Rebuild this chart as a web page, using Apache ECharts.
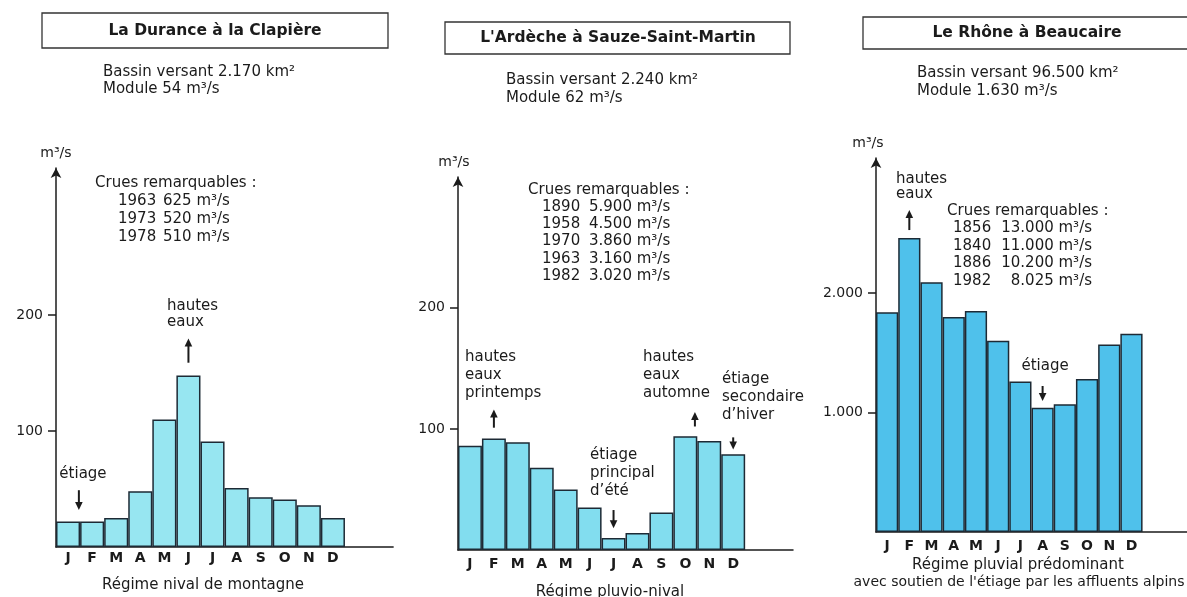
<!DOCTYPE html>
<html><head><meta charset="utf-8">
<script src="https://cdn.jsdelivr.net/npm/echarts@6/dist/echarts.min.js"></script>
<style>html,body{margin:0;padding:0;background:#fff}#c{width:1187px;height:597px}</style>
</head><body><div id="c"></div>
<script>
// ---- data ----
const months = ['J','F','M','A','M','J','J','A','S','O','N','D'];
const durance = [22,22,25,48,110,148,91,51,43,41,36,25];
const ardeche = [86,92,89,68,50,35,10,14,31,94,90,79];
const rhone = [1840,2460,2090,1800,1850,1600,1260,1040,1070,1280,1570,1660];
const duranceTicks = [100,200];
const ardecheTicks = [100,200];
const rhoneTicks = [1000,2000];
const duranceCrues = [['1963','625 m³/s'],['1973','520 m³/s'],['1978','510 m³/s']];
const ardecheCrues = [['1890','5.900 m³/s'],['1958','4.500 m³/s'],['1970','3.860 m³/s'],['1963','3.160 m³/s'],['1982','3.020 m³/s']];
const rhoneCrues = [['1856','13.000 m³/s'],['1840','11.000 m³/s'],['1886','10.200 m³/s'],['1982','8.025 m³/s']];

const FONT = 'DejaVu Sans';
const INK = '#1b1b1b';
const BODY = 15;

const panels = [
  {left:56, top:168, bottom:547, cw:24.08, max:327, data:durance, ticks:duranceTicks, color:'#97e6f1',
   fmt:v=>String(v), lm:4, nameShift:0},
  {left:458, top:177, bottom:550, cw:23.93, max:308, data:ardeche, ticks:ardecheTicks, color:'#82ddef',
   fmt:v=>String(v), lm:7, nameShift:8},
  {left:876, top:158, bottom:532, cw:23.25, max:3130, data:rhone, ticks:rhoneTicks, color:'#4fc1eb',
   fmt:v=>(v/1000).toFixed(3), lm:7, nameShift:16}
];

const notes = [
  {g:0, at:0.45, from:49, to:32, text:'étiage', tAt:0.62, tv:55, align:'center'},
  {g:0, at:5, from:159, to:180, text:'hautes\neaux', tAt:4.11, tv:187, align:'left', lh:16},
  {g:1, at:1, from:101, to:116, text:'hautes\neaux\nprintemps', tAt:-0.21, tv:122, align:'left'},
  {g:1, at:6, from:33, to:18, text:'étiage\nprincipal\nd’été', tAt:5.02, tv:41, align:'left'},
  {g:1, at:9.4, from:102, to:114, text:'hautes\neaux\nautomne', tAt:7.23, tv:122, align:'left'},
  {g:1, at:11, from:93, to:83, text:'étiage\nsecondaire\nd’hiver', tAt:10.53, tv:104, align:'left'},
  {g:2, at:1, from:2527, to:2695, text:'hautes\neaux', tAt:0.4, tv:2762, align:'left', lh:15},
  {g:2, at:7, from:1222, to:1096, text:'étiage', tAt:7.11, tv:1314, align:'center'}
];

const chart = echarts.init(document.getElementById('c'));

const grids = [], xAxes = [], yAxes = [], series = [];
panels.forEach((p, i) => {
  grids.push({left:p.left, top:p.top, width:p.cw*14, height:p.bottom-p.top});
  xAxes.push({
    type:'category', gridIndex:i, data:months.concat(['','']),
    axisLine:{show:true, lineStyle:{color:INK, width:1.5}},
    axisTick:{show:false},
    axisLabel:{interval:0, fontFamily:FONT, fontWeight:'bold', fontSize:14, color:INK, margin:p.lm}
  });
  yAxes.push({
    type:'value', gridIndex:i, min:0, max:p.max,
    name:'m³/s', nameLocation:'end', nameGap:8,
    nameTextStyle:{fontFamily:FONT, fontSize:14, color:INK, align:'center', padding:[0,p.nameShift,0,0]},
    axisLine:{show:true, lineStyle:{color:INK, width:1.5}, symbol:['none','arrow'], symbolSize:[8,10]},
    axisTick:{show:true, customValues:p.ticks, length:8, lineStyle:{color:INK, width:1.5}},
    axisLabel:{customValues:p.ticks, formatter:p.fmt, fontFamily:FONT, fontSize:14, color:INK, margin:13},
    splitLine:{show:false}
  });
  series.push({
    type:'bar', xAxisIndex:i, yAxisIndex:i, data:p.data, barCategoryGap:'0%', silent:true,
    itemStyle:{color:p.color, borderColor:'#1d2a35', borderWidth:1.5}
  });
});

function txt(x, y, text, o) {
  o = o || {};
  return {type:'text', silent:true, style:{x, y, text, fill:INK, fontFamily:FONT,
    fontSize:o.size||BODY, fontWeight:o.weight||'normal', textAlign:o.align||'left',
    textVerticalAlign:o.va||'middle', lineHeight:o.lh}};
}

const graphics = [];
// title boxes
[[42,13,346,35,215,31,'La Durance à la Clapière'],
 [445,22,345,32,618,38,"L'Ardèche à Sauze-Saint-Martin"],
 [863,17,335,32,1027,33,'Le Rhône à Beaucaire']].forEach(t => {
  graphics.push({type:'rect', silent:true, shape:{x:t[0], y:t[1], width:t[2], height:t[3]},
    style:{fill:'none', stroke:'#333', lineWidth:1.3}});
  graphics.push(txt(t[4], t[5], t[6], {weight:'bold', size:15.5, align:'center'}));
});
// subtitles
graphics.push(txt(103, 72, 'Bassin versant 2.170 km²'));
graphics.push(txt(103, 89, 'Module 54 m³/s'));
graphics.push(txt(506, 80, 'Bassin versant 2.240 km²'));
graphics.push(txt(506, 98, 'Module 62 m³/s'));
graphics.push(txt(917, 73, 'Bassin versant 96.500 km²'));
graphics.push(txt(917, 91, 'Module 1.630 m³/s'));
// crues
graphics.push(txt(95, 183, 'Crues remarquables :'));
duranceCrues.forEach((r, k) => {
  graphics.push(txt(118, 201 + k*18, r[0]));
  graphics.push(txt(163, 201 + k*18, r[1]));
});
graphics.push(txt(528, 190, 'Crues remarquables :'));
ardecheCrues.forEach((r, k) => {
  graphics.push(txt(542, 207 + k*17.3, r[0]));
  graphics.push(txt(589, 207 + k*17.3, r[1]));
});
graphics.push(txt(947, 211, 'Crues remarquables :'));
rhoneCrues.forEach((r, k) => {
  graphics.push(txt(953, 228 + k*17.8, r[0]));
  graphics.push(txt(1092, 228 + k*17.8, r[1], {align:'right'}));
});
// captions
graphics.push(txt(203, 585, 'Régime nival de montagne', {align:'center'}));
graphics.push(txt(610, 592, 'Régime pluvio-nival', {align:'center'}));
graphics.push(txt(1018, 565, 'Régime pluvial prédominant', {align:'center'}));
graphics.push(txt(1019, 582, "avec soutien de l'étiage par les affluents alpins", {align:'center', size:14}));

chart.setOption({
  animation:false,
  textStyle:{fontFamily:FONT},
  grid:grids, xAxis:xAxes, yAxis:yAxes, series:series
});

// annotations placed through the axes' own scales
function px(g, at) {
  const a = chart.convertToPixel({xAxisIndex:g}, 0);
  const b = chart.convertToPixel({xAxisIndex:g}, 1);
  return a + at*(b - a);
}
function py(g, v) { return chart.convertToPixel({yAxisIndex:g}, v); }
notes.forEach(n => {
  const x = px(n.g, n.at), y0 = py(n.g, n.from), y1 = py(n.g, n.to);
  const dir = y1 < y0 ? -1 : 1;
  graphics.push({type:'line', silent:true, shape:{x1:x, y1:y0, x2:x, y2:y1 - dir*5},
    style:{stroke:INK, lineWidth:2}});
  graphics.push({type:'polygon', silent:true,
    shape:{points:[[x, y1],[x-3.8, y1-dir*8],[x+3.8, y1-dir*8]]}, style:{fill:INK}});
  graphics.push(txt(px(n.g, n.tAt), py(n.g, n.tv), n.text, {align:n.align, va:'bottom', lh:n.lh||18}));
});

chart.setOption({graphic:graphics});
</script>
</body></html>
